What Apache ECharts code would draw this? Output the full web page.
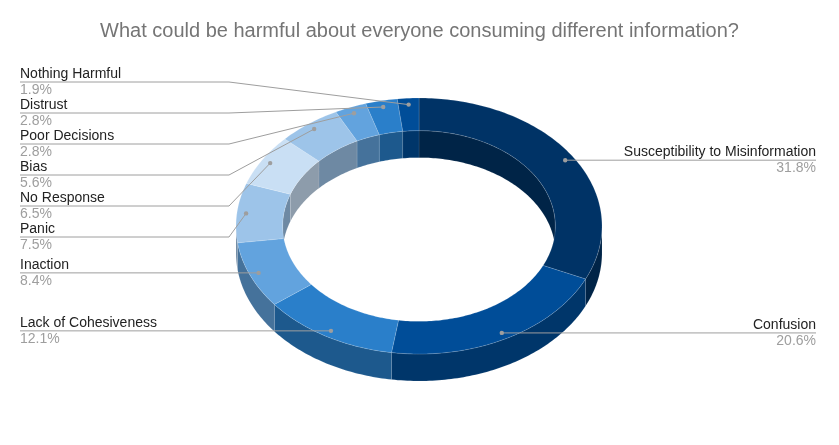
<!DOCTYPE html>
<html>
<head>
<meta charset="utf-8">
<script src="https://cdn.jsdelivr.net/npm/echarts@6/dist/echarts.min.js"></script>
<style>
  html, body { margin: 0; padding: 0; background: #fff; }
  #chart { width: 839px; height: 445px; }
</style>
</head>
<body>
<div id="chart"></div>
<script>
// data
var categories = ['Susceptibility to Misinformation', 'Confusion', 'Lack of Cohesiveness', 'Inaction',
  'Panic', 'No Response', 'Bias', 'Poor Decisions', 'Distrust', 'Nothing Harmful'];
var shares = [31.8, 20.6, 12.1, 8.4, 7.5, 6.5, 5.6, 2.8, 2.8, 1.9];
var sliceColors = ['#003366', '#004d98', '#2a7fca', '#62a3de', '#9dc4e9',
  '#c9dff4', '#9dc4e9', '#62a3de', '#2a7fca', '#004d98'];

// ring geometry (tilted donut drawn as ellipses)
var ring = { cx: 419, cy: 226, rx: 183, ry: 128, hole: 0.745, depth: 27, dot: 0.95 };
var lab = { leftX: 20, rightX: 816, leftElbow: 229, rightElbow: 612, pitch: 31, top: 82 };
var font = '"Liberation Sans", Arial, sans-serif';

function pt(deg, r, dy) {
  var a = deg * Math.PI / 180;
  return [ring.cx + ring.rx * r * Math.sin(a), ring.cy - ring.ry * r * Math.cos(a) + (dy || 0)];
}
function arc(a0, a1, r, dy) {
  var n = Math.max(2, Math.ceil(Math.abs(a1 - a0))), out = [];
  for (var i = 0; i <= n; i++) out.push(pt(a0 + (a1 - a0) * i / n, r, dy));
  return out;
}
function shade(hex, k) {
  var n = parseInt(hex.slice(1), 16);
  var r = Math.round(((n >> 16) & 255) * k), g = Math.round(((n >> 8) & 255) * k), b = Math.round((n & 255) * k);
  return 'rgb(' + r + ',' + g + ',' + b + ')';
}

var total = shares.reduce(function (s, v) { return s + v; }, 0);
var starts = [], acc = 0;
shares.forEach(function (v) { starts.push(acc / total * 360); acc += v; });

// label layout: dot on slice middle, labels stacked on each side
var labels = shares.map(function (v, i) {
  var mid = starts[i] + v / total * 180;
  var d = pt(mid, ring.dot, 0);
  return { i: i, dot: d, y: d[1], left: mid > 180 };
});
function stack(list) {
  list.sort(function (a, b) { return a.dot[1] - b.dot[1]; });
  for (var k = list.length - 2; k >= 0; k--) list[k].y = Math.min(list[k].y, list[k + 1].y - lab.pitch);
  var prev = lab.top - lab.pitch;
  list.forEach(function (l) { l.y = Math.max(l.y, prev + lab.pitch); prev = l.y; });
}
stack(labels.filter(function (l) { return l.left; }));
stack(labels.filter(function (l) { return !l.left; }));
var labelOf = {};
labels.forEach(function (l) { labelOf[l.i] = l; });

function band(lo, hi, r, color, z2) {
  return {
    type: 'polygon', z2: z2,
    shape: { points: arc(lo, hi, r, 0).concat(arc(hi, lo, r, ring.depth)) },
    style: { fill: color, stroke: 'rgba(255,255,255,0.18)', lineWidth: 0.5 }
  };
}

function renderItem(params, api) {
  var i = params.dataIndex;
  var a0 = starts[i], a1 = a0 + api.value(0) / total * 360;
  var top = sliceColors[i], side = shade(top, 0.7);
  var kids = [];

  // inner wall, far half only
  [[0, 90], [270, 360]].forEach(function (w) {
    var lo = Math.max(a0, w[0]), hi = Math.min(a1, w[1]);
    if (hi > lo) kids.push(band(lo, hi, ring.hole, side, 1));
  });
  // outer wall, near half only
  var lo = Math.max(a0, 90), hi = Math.min(a1, 270);
  if (hi > lo) kids.push(band(lo, hi, 1, side, 2));
  // top face
  kids.push({
    type: 'polygon', z2: 3,
    shape: { points: arc(a0, a1, 1, 0).concat(arc(a1, a0, ring.hole, 0)) },
    style: { fill: top, stroke: 'rgba(255,255,255,0.3)', lineWidth: 0.5 }
  });

  // leader line and label
  var l = labelOf[i];
  var endX = l.left ? lab.leftX : lab.rightX;
  var elbowX = l.left ? lab.leftElbow : lab.rightElbow;
  kids.push({
    type: 'polyline', z2: 10,
    shape: { points: [l.dot, [elbowX, l.y], [endX, l.y]] },
    style: { stroke: '#9e9e9e', lineWidth: 1, fill: null }
  });
  kids.push({
    type: 'circle', z2: 11,
    shape: { cx: l.dot[0], cy: l.dot[1], r: 2.2 },
    style: { fill: '#9e9e9e' }
  });
  kids.push({
    type: 'text', z2: 12,
    style: {
      text: categories[i], x: endX, y: l.y - 1, align: l.left ? 'left' : 'right', verticalAlign: 'bottom',
      fill: '#222222', fontSize: 14, fontFamily: font
    }
  });
  kids.push({
    type: 'text', z2: 12,
    style: {
      text: api.value(0).toFixed(1) + '%', x: endX, y: l.y + 1, align: l.left ? 'left' : 'right', verticalAlign: 'top',
      fill: '#9e9e9e', fontSize: 14, fontFamily: font
    }
  });
  return { type: 'group', children: kids };
}

var myChart = echarts.init(document.getElementById('chart'));
var option = {
  backgroundColor: '#fff',
  animation: false,
  title: {
    text: 'What could be harmful about everyone consuming different information?',
    left: 'center',
    top: 16,
    textStyle: { color: '#757575', fontSize: 20, fontWeight: 'normal', fontFamily: font }
  },
  series: [{
    type: 'custom',
    coordinateSystem: 'none',
    silent: true,
    renderItem: renderItem,
    data: shares.map(function (v, i) { return { name: categories[i], value: [v] }; })
  }]
};
if (option && typeof option === 'object') {
  myChart.setOption(option, true);
}
</script>
</body>
</html>
